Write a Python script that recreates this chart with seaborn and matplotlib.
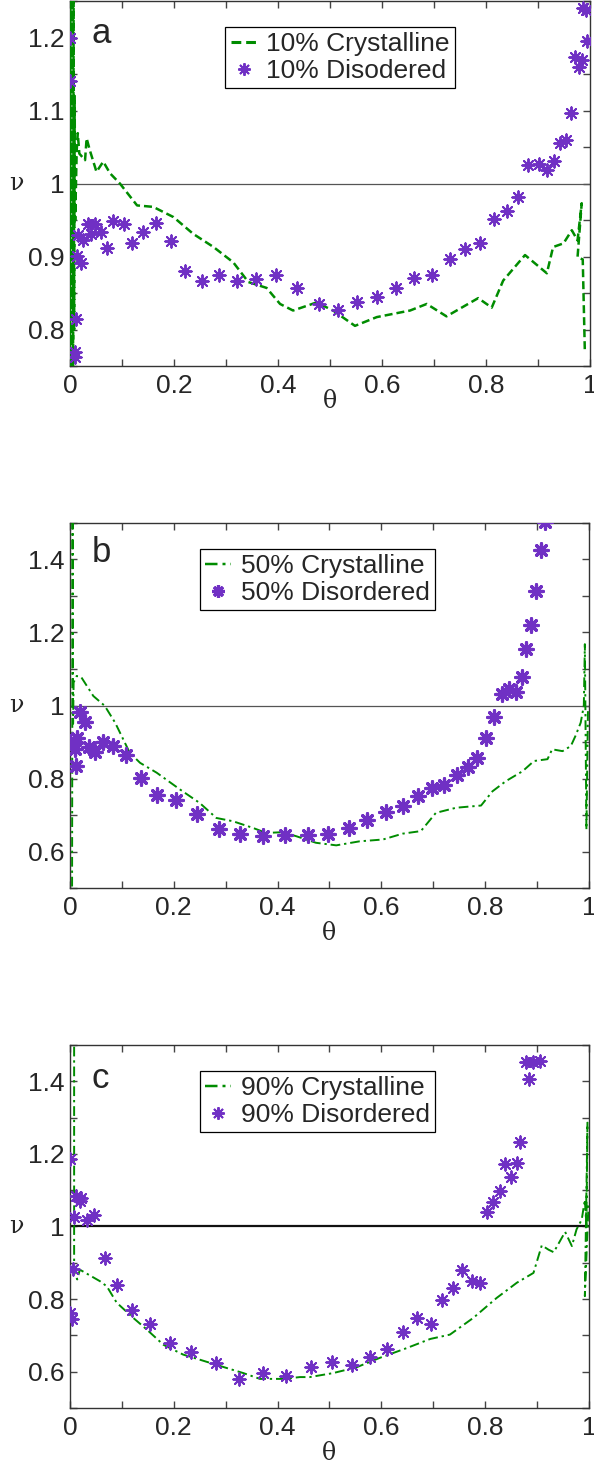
import matplotlib
matplotlib.use("Agg")
import matplotlib.pyplot as plt
from matplotlib.lines import Line2D
from matplotlib.ticker import MultipleLocator, FuncFormatter
import seaborn as sns

# ---- data ----
# panel a, 10%
theta_cry_a = [0.000, 0.001, 0.002, 0.003, 0.004, 0.005, 0.006, 0.007, 0.008, 0.009, 0.010,
               0.013, 0.015, 0.018, 0.029,
               0.032, 0.038, 0.051, 0.064, 0.077, 0.096, 0.129, 0.160, 0.199, 0.237, 0.276, 0.314,
               0.343, 0.378, 0.404, 0.429, 0.474, 0.506, 0.548, 0.590, 0.654, 0.686, 0.724, 0.785,
               0.811, 0.833, 0.875, 0.917, 0.929, 0.949, 0.965, 0.976, 0.984, 0.976, 0.986, 0.990]
nu_cry_a = [0.72, 1.28, 0.72, 1.28, 0.72, 1.28, 0.74, 1.26, 0.80, 1.12, 0.95,
            1.046, 1.069, 1.041, 1.032,
            1.062, 1.046, 1.016, 1.030, 1.014, 1.000, 0.970, 0.968, 0.954, 0.931, 0.913, 0.892,
            0.865, 0.857, 0.835, 0.826, 0.837, 0.826, 0.805, 0.817, 0.826, 0.835, 0.818, 0.843,
            0.830, 0.867, 0.902, 0.877, 0.913, 0.918, 0.936, 0.922, 0.973, 0.899, 0.896, 0.771]
theta_dis_a = [0.000, 0.000, 0.010, 0.010, 0.011, 0.013, 0.022, 0.016, 0.026, 0.035, 0.040, 0.049,
               0.060, 0.072, 0.083, 0.103, 0.120, 0.141, 0.165, 0.194, 0.221, 0.253, 0.286, 0.321,
               0.357, 0.396, 0.436, 0.478, 0.516, 0.551, 0.590, 0.627, 0.662, 0.697, 0.731, 0.760,
               0.788, 0.815, 0.840, 0.862, 0.881, 0.901, 0.917, 0.931, 0.942, 0.954, 0.963, 0.971,
               0.978, 0.984, 0.994, 0.987, 0.992]
nu_dis_a = [1.200, 1.140, 0.769, 0.762, 0.815, 0.901, 0.891, 0.929, 0.922, 0.945, 0.931, 0.945,
            0.934, 0.912, 0.948, 0.945, 0.918, 0.933, 0.946, 0.921, 0.880, 0.867, 0.875, 0.867,
            0.869, 0.874, 0.857, 0.835, 0.827, 0.837, 0.844, 0.857, 0.870, 0.875, 0.896, 0.910,
            0.919, 0.951, 0.962, 0.982, 1.026, 1.027, 1.018, 1.031, 1.055, 1.059, 1.096, 1.173,
            1.159, 1.169, 1.195, 1.240, 1.238]

# panel b, 50%
theta_cry_b = [0.004, 0.005, 0.006, 0.007, 0.013, 0.022, 0.045, 0.067, 0.087, 0.115, 0.135, 0.167,
               0.212, 0.250, 0.282, 0.314, 0.352, 0.378, 0.410, 0.436, 0.474, 0.513, 0.558, 0.603,
               0.641, 0.676, 0.705, 0.744, 0.792, 0.814, 0.840, 0.872, 0.894, 0.920, 0.929, 0.949,
               0.965, 0.974, 0.984, 0.990, 0.992, 0.995, 0.998]
nu_cry_b = [0.45, 1.55, 0.95, 1.063, 1.081, 1.077, 1.026, 0.999, 0.953, 0.871, 0.843, 0.816,
            0.770, 0.733, 0.692, 0.683, 0.665, 0.651, 0.653, 0.642, 0.624, 0.617, 0.628, 0.633,
            0.649, 0.656, 0.706, 0.720, 0.726, 0.765, 0.793, 0.820, 0.848, 0.853, 0.880, 0.875,
            0.889, 0.917, 0.953, 0.999, 1.168, 0.660, 0.990]
theta_dis_b = [0.000, 0.013, 0.010, 0.012, 0.019, 0.028, 0.037, 0.049, 0.063, 0.083, 0.107, 0.136,
               0.167, 0.205, 0.245, 0.287, 0.328, 0.372, 0.414, 0.458, 0.498, 0.537, 0.573, 0.609,
               0.641, 0.670, 0.697, 0.721, 0.745, 0.766, 0.784, 0.801, 0.817, 0.832, 0.846, 0.859,
               0.870, 0.879, 0.889, 0.897, 0.907, 0.915]
nu_dis_b = [0.901, 0.912, 0.880, 0.834, 0.982, 0.955, 0.885, 0.873, 0.901, 0.888, 0.864, 0.802,
            0.756, 0.741, 0.703, 0.662, 0.648, 0.642, 0.644, 0.644, 0.648, 0.665, 0.686, 0.708,
            0.726, 0.753, 0.775, 0.781, 0.809, 0.831, 0.857, 0.912, 0.969, 1.031, 1.045, 1.036,
            1.079, 1.155, 1.221, 1.313, 1.427, 1.503]

# panel c, 90%
theta_cry_c = [0.008, 0.008, 0.014, 0.019, 0.058, 0.071, 0.090, 0.122, 0.148, 0.180, 0.218, 0.250,
               0.302, 0.334, 0.366, 0.411, 0.443, 0.462, 0.507, 0.552, 0.597, 0.649, 0.694, 0.732,
               0.777, 0.822, 0.861, 0.893, 0.909, 0.922, 0.932, 0.954, 0.967, 0.976, 0.986, 0.992,
               0.995, 0.997, 0.992, 0.999]
nu_cry_c = [1.55, 0.873, 0.854, 0.881, 0.849, 0.835, 0.790, 0.748, 0.716, 0.674, 0.647, 0.633,
            0.610, 0.596, 0.580, 0.580, 0.585, 0.585, 0.596, 0.612, 0.638, 0.665, 0.690, 0.702,
            0.748, 0.803, 0.845, 0.872, 0.948, 0.936, 0.929, 0.985, 0.946, 0.992, 1.019, 1.074,
            1.001, 1.286, 0.808, 1.058]
theta_dis_c = [0.001, 0.012, 0.019, 0.022, 0.008, 0.033, 0.047, 0.005, 0.000, 0.003, 0.067, 0.090,
               0.120, 0.154, 0.193, 0.233, 0.281, 0.326, 0.372, 0.417, 0.464, 0.504, 0.544, 0.579,
               0.611, 0.642, 0.669, 0.696, 0.716, 0.737, 0.755, 0.774, 0.790, 0.803, 0.815, 0.828,
               0.839, 0.850, 0.861, 0.868, 0.885, 0.878, 0.893, 0.906]
nu_dis_c = [1.185, 1.084, 1.070, 1.079, 1.027, 1.019, 1.031, 0.883, 0.762, 0.745, 0.912, 0.840,
            0.771, 0.732, 0.680, 0.653, 0.624, 0.581, 0.596, 0.589, 0.612, 0.626, 0.617, 0.641,
            0.663, 0.708, 0.748, 0.730, 0.797, 0.831, 0.881, 0.849, 0.843, 1.041, 1.068, 1.097,
            1.171, 1.137, 1.176, 1.233, 1.407, 1.452, 1.453, 1.455]

letters = ["a", "b", "c"]
cry_labels = ["10% Crystalline", "50% Crystalline", "90% Crystalline"]
dis_labels = ["10% Disodered", "50% Disordered", "90% Disordered"]

GREEN = "#008c00"
PURPLE = "#7030c4"
STAR = (8, 2, 0)

sns.set_style("ticks")
plt.rcParams["font.family"] = ["Liberation Sans", "DejaVu Sans"]

fig = plt.figure(figsize=(5.94, 14.64), dpi=100)

# [left, bottom, width, height] in figure fractions
boxes = [[0.1178, 0.7500, 0.8755, 0.2493],
         [0.1178, 0.3934, 0.8738, 0.2494],
         [0.1178, 0.0383, 0.8738, 0.2479]]

panels = [
    dict(tc=theta_cry_a, nc=nu_cry_a, td=theta_dis_a, nd=nu_dis_a, ylim=(0.75, 1.25),
         ymaj=0.1, ymin=0.05, ls=(0, (3.2, 1.6)), lw=1.8, ms=80, mew=1.4, hlw=0.9, hcol="#555555",
         xlab_y=-0.065, let_y=0.91, leg=(0.299, 0.929)),
    dict(tc=theta_cry_b, nc=nu_cry_b, td=theta_dis_b, nd=nu_dis_b, ylim=(0.5, 1.5),
         ymaj=0.2, ymin=0.1, ls=(0, (5, 2, 1.2, 2)), lw=1.4, ms=95, mew=2.3, hlw=0.9, hcol="#555555",
         xlab_y=-0.093, let_y=0.92, leg=(0.25, 0.929)),
    dict(tc=theta_cry_c, nc=nu_cry_c, td=theta_dis_c, nd=nu_dis_c, ylim=(0.5, 1.5),
         ymaj=0.2, ymin=0.1, ls=(0, (5, 2, 1.2, 2)), lw=1.4, ms=80, mew=1.4, hlw=1.6, hcol="#111111",
         xlab_y=-0.094, let_y=0.909, leg=(0.25, 0.928)),
]

fmt = FuncFormatter(lambda v, p: f"{v:g}")

for i, (box, p) in enumerate(zip(boxes, panels)):
    ax = fig.add_axes(box)
    ax.axhline(1.0, color=p["hcol"], lw=p["hlw"], zorder=1)
    sns.lineplot(x=p["tc"], y=p["nc"], ax=ax, sort=False, estimator=None,
                 color=GREEN, lw=p["lw"], linestyle=p["ls"], zorder=3)
    sns.scatterplot(x=p["td"], y=p["nd"], ax=ax, marker=STAR, s=p["ms"],
                    color=PURPLE, edgecolor=PURPLE, linewidth=p["mew"], zorder=4)

    ax.set_xlim(0, 1)
    ax.set_ylim(*p["ylim"])
    ax.xaxis.set_major_locator(MultipleLocator(0.2))
    ax.xaxis.set_minor_locator(MultipleLocator(0.1))
    ax.yaxis.set_major_locator(MultipleLocator(p["ymaj"]))
    ax.yaxis.set_minor_locator(MultipleLocator(p["ymin"]))
    ax.xaxis.set_major_formatter(fmt)
    ax.yaxis.set_major_formatter(fmt)
    ax.tick_params(which="both", direction="in", top=True, right=True,
                   length=5, width=1, color="#444444")
    ax.tick_params(which="major", labelsize=19, pad=4)
    ax.tick_params(axis="x", which="major", pad=6)
    for sp in ax.spines.values():
        sp.set_color("#333333")
        sp.set_linewidth(1.0)

    ax.set_xlabel("θ", family="DejaVu Serif", fontsize=17)
    ax.xaxis.set_label_coords(0.5, p["xlab_y"])
    ax.set_ylabel("ν", family="DejaVu Serif", fontsize=17, rotation=0, va="center", ha="center")
    ax.yaxis.set_label_coords(-0.104, 0.5)

    ax.text(0.042, p["let_y"], letters[i], transform=ax.transAxes, fontsize=25,
            ha="left", va="center")

    handles = [Line2D([], [], color=GREEN, lw=p["lw"] + 0.4, linestyle=p["ls"]),
               Line2D([], [], color=PURPLE, marker=STAR, linestyle="none",
                      markersize=9, markeredgewidth=p["mew"])]
    leg = ax.legend(handles, [cry_labels[i], dis_labels[i]], loc="upper left",
                    bbox_to_anchor=p["leg"], fontsize=19, frameon=True, fancybox=False,
                    framealpha=1, edgecolor="black", borderpad=0.2, labelspacing=0.1,
                    handlelength=1.0, handletextpad=0.35, borderaxespad=0)
    leg.get_frame().set_linewidth(0.9)

fig.savefig("out.png", dpi=100)
